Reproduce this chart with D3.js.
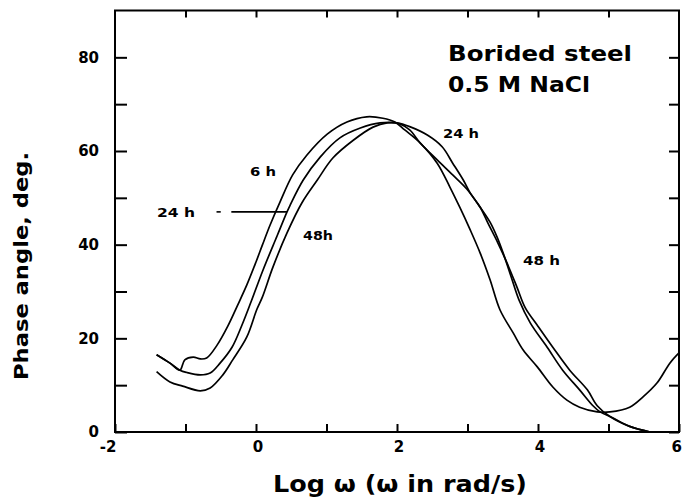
<!DOCTYPE html>
<html><head><meta charset="utf-8">
<script src="https://cdn.jsdelivr.net/npm/d3@7/dist/d3.min.js"></script>
<style>
html,body{margin:0;padding:0;background:#fff;}
svg{display:block;}
text{font-family:"DejaVu Sans",sans-serif;font-weight:bold;fill:#000;}
</style></head>
<body>
<script>
// ---- data (log omega, phase angle in degrees) ----
const logw6h = [-1.41,-1.22,-1.08,-1.01,-0.89,-0.79,-0.70,-0.55,-0.40,-0.26,-0.13,0.00,0.09,0.20,0.34,0.52,0.72,1.01,1.29,1.57,1.80,1.97,2.11,2.33,2.57,2.75,2.89,3.04,3.18,3.32,3.46,3.65,3.79,3.99,4.21,4.41,4.59,4.84,5.02,5.30,5.49,5.69,5.87,6.00];
const phase6h = [16.5,14.7,13.2,15.4,16.0,15.6,15.8,18.6,22.6,27.1,31.4,36.3,39.9,44.2,49.1,54.9,59.1,63.6,66.2,67.3,67.0,66.2,64.5,61.7,57.4,52.3,48.0,43.1,38.2,32.5,26.1,21.1,17.5,13.9,9.6,6.8,5.3,4.3,4.3,5.3,7.5,10.5,14.7,16.9];

const logw24h = [-1.41,-1.22,-1.08,-0.98,-0.79,-0.65,-0.51,-0.34,-0.20,-0.07,0.10,0.30,0.44,0.48,0.67,0.91,1.19,1.48,1.76,2.00,2.18,2.43,2.64,2.79,2.94,3.04,3.18,3.29,3.43,3.56,3.70,3.82,3.99,4.21,4.45,4.70,4.84,5.02,5.30,5.59];
const phase24h = [16.5,14.7,13.2,12.7,12.2,12.6,14.7,18.1,22.8,27.8,34.6,41.9,47.0,48.3,53.8,58.7,62.8,64.9,66.0,66.0,65.2,63.4,60.9,57.4,53.8,51.0,48.0,44.6,40.4,36.1,31.0,26.5,22.8,18.1,13.2,9.0,5.6,3.3,1.2,0.0];

const logw48h = [-1.41,-1.22,-1.04,-0.79,-0.65,-0.47,-0.33,-0.13,0.01,0.09,0.24,0.44,0.65,0.87,1.09,1.38,1.66,1.86,2.04,2.18,2.33,2.57,2.79,2.99,3.18,3.32,3.42,3.52,3.62,3.73,3.89,4.13,4.35,4.59,4.78,4.88,5.05,5.30,5.59];
const phase48h = [12.9,10.7,9.8,8.8,9.4,12.2,15.4,20.3,26.1,28.8,35.2,42.5,48.9,53.8,58.5,62.3,65.1,66.0,65.8,64.5,61.7,58.1,54.9,51.9,48.0,44.8,41.6,37.6,33.1,28.2,23.3,18.1,13.2,9.0,5.6,4.3,3.1,1.2,0.0];

const xTicks = [-2,-1,0,1,2,3,4,5,6];
const xTickLabels = [-2,0,2,4,6];
const yTicks = [0,10,20,30,40,50,60,70,80];
const yTickLabels = [0,20,40,60,80];
const leaderX = [-0.56,-0.50,-0.35,0.44];
const leaderY = 47.0;

(function(){
const W = 684, H = 498;
const svg = d3.select("body").append("svg").attr("width", W).attr("height", H);

const x = d3.scaleLinear().domain([-2, 6]).range([115, 679]);
const y = d3.scaleLinear().domain([0, 90]).range([432, 10.5]);

// frame
svg.append("rect").attr("x", x(-2)).attr("y", y(90))
  .attr("width", x(6) - x(-2)).attr("height", y(0) - y(90))
  .attr("fill", "none").attr("stroke", "#000").attr("stroke-width", 2);

// axes with inward ticks
const axB = d3.axisBottom(x).tickValues(xTicks).tickSizeInner(-8).tickSizeOuter(0).tickFormat("");
const axT = d3.axisTop(x).tickValues(xTicks.slice(1, -1)).tickSizeInner(-7).tickSizeOuter(0).tickFormat("");
const axL = d3.axisLeft(y).tickValues(yTicks).tickSizeInner(-12).tickSizeOuter(0).tickFormat("");
const axR = d3.axisRight(y).tickValues(yTicks).tickSizeInner(-10).tickSizeOuter(0).tickFormat("");
function styleAxis(g){ g.select(".domain").remove(); g.selectAll("line").attr("stroke","#000").attr("stroke-width",2); }
svg.append("g").attr("transform", `translate(0,${y(0)})`).call(axB).call(styleAxis);
svg.append("g").attr("transform", `translate(0,${y(90)})`).call(axT).call(styleAxis);
svg.append("g").attr("transform", `translate(${x(-2)},0)`).call(axL).call(styleAxis);
svg.append("g").attr("transform", `translate(${x(6)},0)`).call(axR).call(styleAxis);

// tick labels
svg.append("g").selectAll("text").data(yTickLabels).join("text")
  .attr("x", 99).attr("y", d => y(d)).attr("dy", "0.36em")
  .attr("text-anchor", "end").attr("font-size", 15).text(d => d);
svg.append("g").selectAll("text").data(xTickLabels).join("text")
  .attr("x", d => d === 6 ? 682 : x(d) + (d < 0 ? -7 : 2))
  .attr("y", 452).attr("text-anchor", d => d === 6 ? "end" : "middle").attr("font-size", 15)
  .text(d => d);

// axis titles
svg.append("text").attr("x", 400).attr("y", 492).attr("text-anchor", "middle")
  .attr("font-size", 23).attr("textLength", 254).attr("lengthAdjust", "spacingAndGlyphs")
  .text("Log \u03c9 (\u03c9 in rad/s)");
svg.append("text").attr("transform", "translate(28,266) rotate(-90)")
  .attr("text-anchor", "middle").attr("font-size", 20)
  .attr("textLength", 228).attr("lengthAdjust", "spacingAndGlyphs")
  .text("Phase angle, deg.");

// curves
const line = d3.line().x(d => x(d[0])).y(d => y(d[1])).curve(d3.curveCatmullRom.alpha(0.5));
const series = [
  d3.zip(logw6h, phase6h),
  d3.zip(logw24h, phase24h),
  d3.zip(logw48h, phase48h)
];
svg.append("defs").append("clipPath").attr("id", "clip")
  .append("rect").attr("x", x(-2)).attr("y", y(90)).attr("width", x(6) - x(-2)).attr("height", y(0) - y(90));
svg.append("g").attr("clip-path", "url(#clip)").selectAll("path").data(series).join("path")
  .attr("d", line).attr("fill", "none").attr("stroke", "#000").attr("stroke-width", 1.7)
  .attr("stroke-linejoin", "round");

// leader line for left "24 h"
svg.append("line").attr("x1", x(leaderX[0])).attr("x2", x(leaderX[1]))
  .attr("y1", y(leaderY)).attr("y2", y(leaderY)).attr("stroke", "#000").attr("stroke-width", 1.6);
svg.append("line").attr("x1", x(leaderX[2])).attr("x2", x(leaderX[3]))
  .attr("y1", y(leaderY)).attr("y2", y(leaderY)).attr("stroke", "#000").attr("stroke-width", 1.6);

// annotations
function label(t, px, py, size, len){
  const el = svg.append("text").attr("x", px).attr("y", py).attr("font-size", size).text(t);
  if (len) el.attr("textLength", len).attr("lengthAdjust", "spacingAndGlyphs");
}
label("Borided steel", 448, 60.5, 21, 184);
label("0.5 M NaCl", 448, 92, 21, 142);
label("24 h", 443, 138, 13, 36);
label("6 h", 250, 176, 13, 26);
label("24 h", 157, 216.5, 13, 38);
label("48h", 303, 240, 13, 30);
label("48 h", 523, 264.5, 13, 37);
})();
</script>
</body></html>
